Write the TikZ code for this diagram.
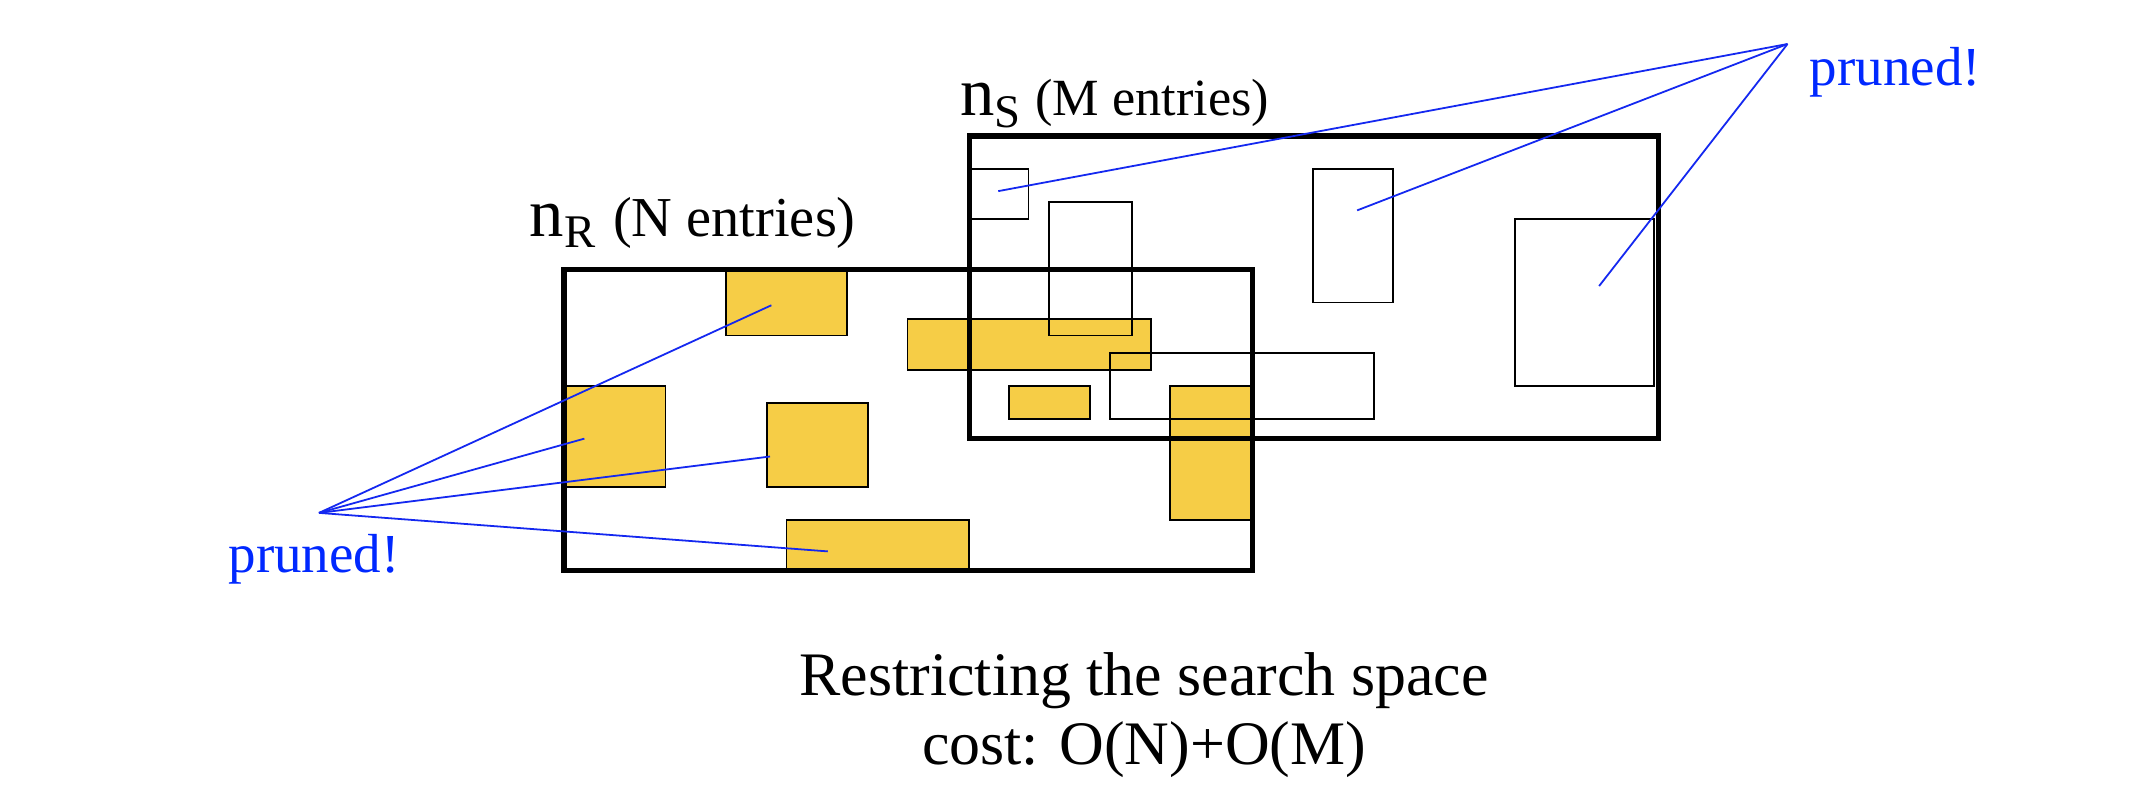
\documentclass[tikz,border=0pt]{standalone}
\usepackage{fontspec}
\setmainfont{Liberation Serif}
\definecolor{ryellow}{RGB}{246,205,70}
\definecolor{pblue}{RGB}{20,40,240}
\definecolor{tblue}{RGB}{0,40,255}
\begin{document}
\begin{tikzpicture}[x=1pt,y=-1pt,
  nodebox/.style={draw=black,line width=4pt},
  entry/.style={draw=black,line width=1.4pt},
  yentry/.style={entry,fill=ryellow},
  prune/.style={draw=pblue,line width=1.3pt},
  lbl/.style={anchor=base west,inner sep=0pt},
  prunetxt/.style={lbl,text=tblue,font=\fontsize{40}{40}\selectfont},
]
\useasboundingbox (0,0) rectangle (1568,582);
\fill[white] (0,0) rectangle (1568,582);

% entries of n_R (yellow)
\draw[yentry] (528,196) rectangle (616,244);
\draw[yentry] (660,232) rectangle (837,269);
\draw[yentry] (410,281) rectangle (484,354);
\draw[yentry] (558,293) rectangle (631,354);
\draw[yentry] (734,281) rectangle (793,305);
\draw[yentry] (851,281) rectangle (910,378);
\draw[yentry] (572,378) rectangle (705,415);

% node boxes
\draw[nodebox] (410,196) rectangle (911,415);
\draw[nodebox] (705,99) rectangle (1206,319);

% entries of n_S
\draw[entry] (705,123) rectangle (748,159);
\draw[entry] (763,147) rectangle (823,244);
\draw[entry] (955,123) rectangle (1013,220);
\draw[entry] (1102,159) rectangle (1203,281);
\draw[entry] (807,257) rectangle (999,305);

% labels
\node[lbl,font=\fontsize{50}{50}\selectfont] (nR) at (385,172)
  {n\raisebox{-8pt}{\fontsize{34}{34}\selectfont R}\hspace{13pt}{\fontsize{41}{41}\selectfont (N entries)}};
\node[lbl,font=\fontsize{50}{50}\selectfont] (nS) at (698,84)
  {n\raisebox{-9pt}{\fontsize{34}{34}\selectfont S}\hspace{11pt}{\fontsize{38}{38}\selectfont (M entries)}};

\node[prunetxt] (pl) at (166,416) {pruned!};
\node[prunetxt] (pr) at (1316,62) {pruned!};

% pruning connectors
\coordinate (al) at (232,373);
\coordinate (ar) at (1300,32);
\coordinate (r1) at (561,222);
\coordinate (r2) at (425,319);
\coordinate (r3) at (560,332);
\coordinate (r4) at (602,401);
\coordinate (s1) at (726,139);
\coordinate (s2) at (987,153);
\coordinate (s3) at (1163,208);
\foreach \t in {r1,r2,r3,r4} \draw[prune] (al) -- (\t);
\foreach \t in {s1,s2,s3} \draw[prune] (ar) -- (\t);

% caption
\node[anchor=base,inner sep=0pt,font=\fontsize{45}{50}\selectfont] (cap1) at (832,506) {Restricting the search space};
\node[anchor=base,inner sep=0pt,font=\fontsize{45}{50}\selectfont] (cap2) at (832,556) {cost: O(N)+O(M)};
\end{tikzpicture}
\end{document}
